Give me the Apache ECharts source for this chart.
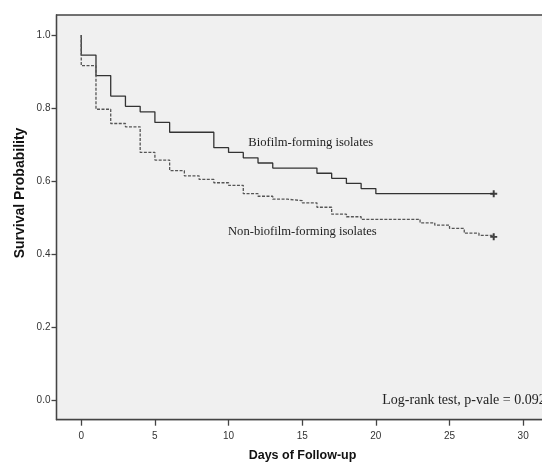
<!DOCTYPE html>
<html>
<head>
<meta charset="utf-8">
<script src="https://cdn.jsdelivr.net/npm/echarts@6/dist/echarts.min.js"></script>
<style>
    html, body { margin: 0; padding: 0; background: #fff; overflow: hidden; }
    /* plot runs past the right edge of the window, like the cropped original */
    #main { width: 560px; height: 463px; }
</style>
</head>
<body>
<div id="main"></div>
<script>
    // Kaplan-Meier steps (day of event, survival after it)
    const biofilmDays = [0, 0, 1, 2, 3, 4, 5, 6, 9, 10, 11, 12, 13, 16, 17, 18, 19, 20, 28];
    const biofilmSurv = [1.0, 0.945, 0.889, 0.833, 0.805, 0.790, 0.761, 0.734, 0.692, 0.679, 0.664, 0.650, 0.636, 0.622, 0.608, 0.594, 0.580, 0.566, 0.566];

    const nonBiofilmDays = [0, 0, 1, 2, 3, 4, 5, 6, 7, 8, 9, 10, 11, 12, 13, 14, 15, 16, 17, 18, 19, 23, 24, 25, 26, 27, 28];
    const nonBiofilmSurv = [1.0, 0.916, 0.797, 0.758, 0.749, 0.679, 0.658, 0.629, 0.615, 0.605, 0.596, 0.589, 0.566, 0.559, 0.551, 0.547, 0.541, 0.529, 0.510, 0.503, 0.496, 0.486, 0.480, 0.471, 0.458, 0.452, 0.448];

    // censored points (+)
    const biofilmCensor = [[28, 0.566]];
    const nonBiofilmCensor = [[28, 0.448]];

    const xTicks = [0, 5, 10, 15, 20, 25, 30];
    const yTicks = [0, 0.2, 0.4, 0.6, 0.8, 1.0];

    const toPairs = (xs, ys) => xs.map((x, i) => [x, ys[i]]);

    var myChart = echarts.init(document.getElementById('main'));

    const plusSymbol = 'path://M3.6,0H6.4V3.6H10V6.4H6.4V10H3.6V6.4H0V3.6H3.6Z';

    let option = {
        animation: false,
        backgroundColor: '#ffffff',
        grid: {
            left: 56.5,
            top: 15,
            right: 0,
            bottom: 43.3,
            show: true,
            backgroundColor: '#f0f0f0',
            borderColor: '#444',
            borderWidth: 1.3
        },
        xAxis: {
            type: 'value',
            min: -1.68,
            max: 32.5,
            splitLine: { show: false },
            axisLine: { show: true, onZero: false, lineStyle: { color: '#444', width: 1.3 } },
            axisTick: { show: true, length: 6, customValues: xTicks, lineStyle: { color: '#444', width: 1.3 } },
            axisLabel: {
                customValues: xTicks,
                margin: 12,
                fontFamily: 'Liberation Sans',
                fontSize: 10,
                color: '#333'
            }
        },
        yAxis: {
            type: 'value',
            min: -0.052,
            max: 1.0547,
            splitLine: { show: false },
            axisLine: { show: true, onZero: false, lineStyle: { color: '#444', width: 1.3 } },
            axisTick: { show: true, length: 5, customValues: yTicks, lineStyle: { color: '#444', width: 1.3 } },
            axisLabel: {
                customValues: yTicks,
                margin: 6,
                fontFamily: 'Liberation Sans',
                fontSize: 10,
                color: '#333',
                formatter: function (v) { return v.toFixed(1); }
            }
        },
        series: [
            {
                name: 'Biofilm-forming isolates',
                type: 'line',
                step: 'end',
                showSymbol: false,
                data: toPairs(biofilmDays, biofilmSurv),
                lineStyle: { color: '#333', width: 1.3 }
            },
            {
                name: 'Non-biofilm-forming isolates',
                type: 'line',
                step: 'end',
                showSymbol: false,
                data: toPairs(nonBiofilmDays, nonBiofilmSurv),
                lineStyle: { color: '#555', width: 1.3, type: [3, 1.5] }
            },
            {
                type: 'scatter',
                symbol: plusSymbol,
                symbolSize: 7,
                data: biofilmCensor.concat(nonBiofilmCensor),
                itemStyle: { color: '#111' }
            }
        ],
        graphic: [
            {
                // y axis title
                type: 'text',
                x: 20,
                y: 193,
                rotation: Math.PI / 2,
                style: {
                    text: 'Survival Probability',
                    font: 'bold 14px "Liberation Sans"',
                    fill: '#111',
                    align: 'center',
                    verticalAlign: 'middle'
                }
            },
            {
                // x axis title
                type: 'text',
                x: 302.5,
                y: 456,
                style: {
                    text: 'Days of Follow-up',
                    font: 'bold 12.5px "Liberation Sans"',
                    fill: '#111',
                    align: 'center',
                    verticalAlign: 'middle'
                }
            },
            {
                type: 'text',
                x: 248.3,
                y: 143,
                style: {
                    text: 'Biofilm-forming isolates',
                    font: '12.6px "Liberation Serif"',
                    fill: '#222',
                    verticalAlign: 'middle'
                }
            },
            {
                type: 'text',
                x: 228,
                y: 231.7,
                style: {
                    text: 'Non-biofilm-forming isolates',
                    font: '12.6px "Liberation Serif"',
                    fill: '#222',
                    verticalAlign: 'middle'
                }
            },
            {
                type: 'text',
                x: 382.3,
                y: 400,
                style: {
                    text: 'Log-rank test, p-vale = 0.092',
                    font: '14px "Liberation Serif"',
                    fill: '#222',
                    verticalAlign: 'middle'
                }
            }
        ]
    };

    myChart.setOption(option);
</script>
</body>
</html>
